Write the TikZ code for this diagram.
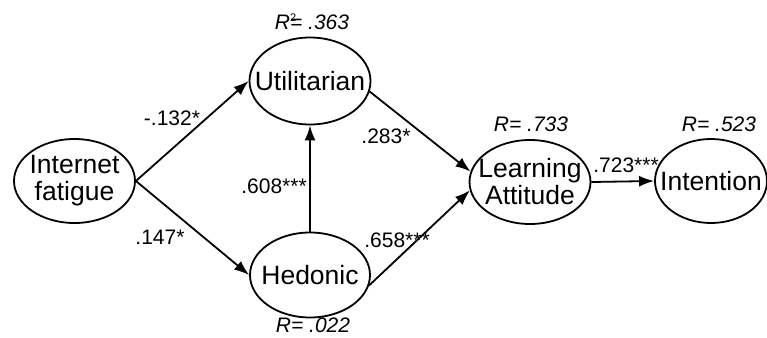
\documentclass[tikz,border=0pt]{standalone}
\usepackage{fontspec}
\setmainfont{Liberation Sans}
\usetikzlibrary{arrows.meta,shapes.geometric}
\newcommand{\zline}[1]{\makebox[0pt][c]{#1}}
\begin{document}
\begin{tikzpicture}[x=1pt,y=-1pt,
  latent/.style={ellipse,draw,line width=1.8pt,inner sep=0pt,align=center,
    font=\fontsize{26.5}{27}\selectfont},
  coef/.style={font=\fontsize{21}{22}\selectfont,inner sep=0pt},
  rsq/.style={font=\fontsize{21}{22}\selectfont\itshape,inner sep=0pt},
  path/.style={line width=1.8pt,-{Latex[length=15pt,width=11pt]}}]
\useasboundingbox (0,0) rectangle (767,337);
\node[latent,minimum width=121pt,minimum height=84pt] (ifa) at (74.5,181) {\zline{Internet}\\\zline{fatigue}};
\node[latent,minimum width=121pt,minimum height=87pt] (uti) at (310,81) {\zline{Utilitarian}};
\node[latent,minimum width=120pt,minimum height=85pt] (hed) at (310,275) {\zline{Hedonic}};
\node[latent,minimum width=121pt,minimum height=84pt] (lat) at (530,182) {\zline{Learning}\\\zline{Attitude}};
\node[latent,minimum width=112pt,minimum height=84pt] (int) at (711,181) {\zline{Intention}};
\draw[path] (ifa.east) -- (uti.west);
\draw[path] (ifa.east) -- (hed.west);
\draw[path] (hed.north) -- (uti.south);
\draw[path] (uti.-10) -- (lat.170);
\draw[path] (hed.-10) -- (lat.188);
\draw[path] (lat.east) -- (int.west);
\node[coef] (c1) at (172,118) {-.132*};
\node[coef] (c2) at (160,237) {.147*};
\node[coef] (c3) at (274,186) {.608***};
\node[coef] (c4) at (386,136) {.283*};
\node[coef] (c5) at (397,240) {.658***};
\node[coef] (c6) at (626,165) {.723***};
\node[rsq] (r1) at (312,22) {R\rlap{\raisebox{8pt}{\fontsize{11}{12}\selectfont\upshape 2}}= .363};
\node[rsq] (r2) at (531,124) {R= .733};
\node[rsq] (r3) at (719,124) {R= .523};
\node[rsq] (r4) at (313,325) {R= .022};
\end{tikzpicture}
\end{document}
